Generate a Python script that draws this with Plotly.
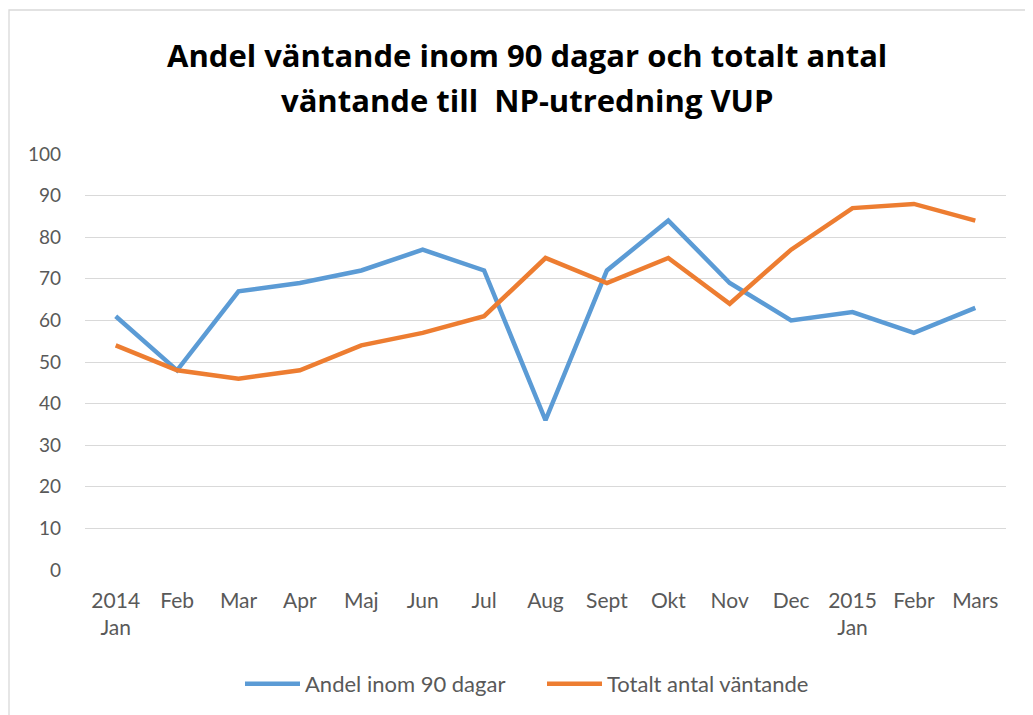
import plotly.graph_objects as go

categories = ["2014<br>Jan", "Feb", "Mar", "Apr", "Maj", "Jun", "Jul", "Aug", "Sept",
              "Okt", "Nov", "Dec", "2015<br>Jan", "Febr", "Mars"]
andel_inom_90 = [61, 48, 67, 69, 72, 77, 72, 36, 72, 84, 69, 60, 62, 57, 63]
totalt_antal = [54, 48, 46, 48, 54, 57, 61, 75, 69, 75, 64, 77, 87, 88, 84]
y_ticks = list(range(0, 101, 10))

title_lines = ["Andel väntande inom 90 dagar och totalt antal",
               "väntande till  NP-utredning VUP"]

FONT = "Lato"
OFF = 8  # page body margin offset
W, H = 1033, 715
# target plot area in screen pixels: x 85..1006, y 154..570
L = 85 - OFF
T = 154 - OFF
R = W - (1006 - OFF)
B = H - (570 - OFF)
pw, ph = W - L - R, H - T - B

def px_x(p):
    return (p - OFF - L) / pw

def px_y(p):
    return (H - B - (p - OFF)) / ph

fig = go.Figure()
fig.add_trace(go.Scatter(x=list(range(len(categories))), y=andel_inom_90, mode="lines",
                         name="Andel inom 90 dagar",
                         line=dict(color="#5B9BD5", width=4.5)))
fig.add_trace(go.Scatter(x=list(range(len(categories))), y=totalt_antal, mode="lines",
                         name="Totalt antal väntande",
                         line=dict(color="#ED7D31", width=4.5)))

fig.update_layout(
    width=W, height=H,
    margin=dict(l=L, r=R, t=T, b=B),
    paper_bgcolor="white", plot_bgcolor="white",
    font=dict(family=FONT, size=19, color="#595959"),
    showlegend=True,
    legend=dict(orientation="h", x=px_x(240), xanchor="left", y=px_y(684), yanchor="middle",
                font=dict(size=22, color="#595959"), itemwidth=55,
                entrywidth=232, entrywidthmode="pixels"),
    xaxis=dict(tickmode="array", tickvals=list(range(len(categories))), ticktext=categories,
               range=[-0.5, len(categories) - 0.5], showgrid=False, zeroline=False,
               showline=False, ticks="", ticklabelstandoff=16,
               tickfont=dict(size=21)),
    yaxis=dict(range=[0, 100], tickvals=y_ticks, showgrid=True, gridcolor="#D9D9D9",
               gridwidth=1.3, zeroline=False, showline=False, ticks="",
               ticklabelstandoff=23, tickfont=dict(size=19)),
)

for i, t in enumerate(title_lines):
    fig.add_annotation(text="<b>" + t + "</b>", xref="paper", yref="paper",
                       x=px_x(527), y=px_y(55 + 45 * i), xanchor="center", yanchor="middle",
                       showarrow=False, font=dict(family="Open Sans", size=31, color="black"))

fig.add_shape(type="rect", xref="paper", yref="paper",
              x0=px_x(9), y0=px_y(740), x1=px_x(1060), y1=px_y(10),
              line=dict(color="#D9D9D9", width=1.3), fillcolor="rgba(0,0,0,0)", layer="below")

fig.write_html("out.html", config={"displayModeBar": False})
